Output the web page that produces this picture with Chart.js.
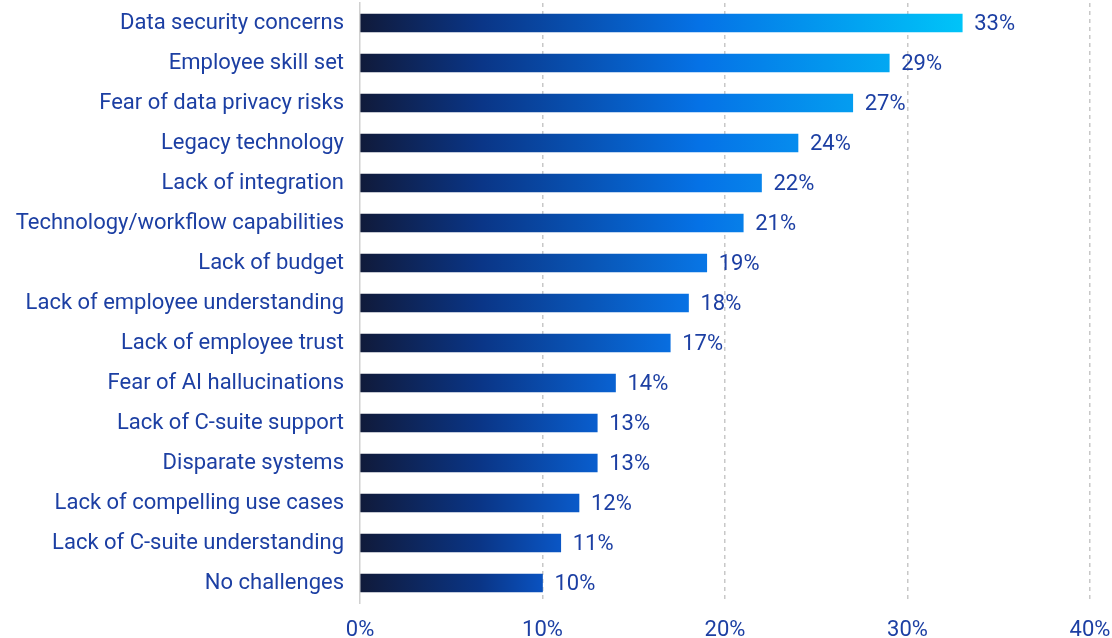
<!DOCTYPE html>
<html>
<head>
<meta charset="utf-8">
<script src="https://cdn.jsdelivr.net/npm/chart.js@4"></script>
<style>
  html, body { margin: 0; padding: 0; background: #fff; }
  #wrap { width: 1112px; height: 638px; }
</style>
</head>
<body>
<div id="wrap"><canvas id="challenges"></canvas></div>
<script>
const categories = [
    'Data security concerns',
    'Employee skill set',
    'Fear of data privacy risks',
    'Legacy technology',
    'Lack of integration',
    'Technology/workflow capabilities',
    'Lack of budget',
    'Lack of employee understanding',
    'Lack of employee trust',
    'Fear of AI hallucinations',
    'Lack of C-suite support',
    'Disparate systems',
    'Lack of compelling use cases',
    'Lack of C-suite understanding',
    'No challenges'
];
const shares = [33, 29, 27, 24, 22, 21, 19, 18, 17, 14, 13, 13, 12, 11, 10];
const tickValues = [0, 10, 20, 30, 40];

const textColor = '#1c3fa3';
const fontFamily = 'Roboto, "Noto Sans", sans-serif';

// colour reached at the end of a bar, by its value
const endStops = [
    [10, [10, 82, 192]],
    [18, [8, 114, 228]],
    [24, [6, 140, 238]],
    [29, [2, 168, 242]],
    [33, [0, 196, 248]]
];
// fixed ramp along the bar, in pixels from the zero line
const rampStops = [
    [0, '#101a3a'],
    [120, '#0a3586'],
    [340, '#0572e6']
];

function endColor(v) {
    if (v <= endStops[0][0]) return `rgb(${endStops[0][1].join(',')})`;
    for (let i = 1; i < endStops.length; i++) {
        if (v <= endStops[i][0]) {
            const [a, ca] = endStops[i - 1];
            const [b, cb] = endStops[i];
            const t = (v - a) / (b - a);
            const c = ca.map((x, k) => Math.round(x + (cb[k] - x) * t));
            return `rgb(${c.join(',')})`;
        }
    }
    return `rgb(${endStops[endStops.length - 1][1].join(',')})`;
}

function barFill(context) {
    const chart = context.chart;
    if (!chart.chartArea) return '#0a52c0';
    const x = chart.scales.x;
    const v = context.raw;
    const x0 = x.getPixelForValue(0);
    const x1 = x.getPixelForValue(v);
    const len = x1 - x0;
    const g = chart.ctx.createLinearGradient(x0, 0, x1, 0);
    rampStops.forEach(([px, col]) => {
        if (px < len * 0.9) g.addColorStop(px / len, col);
    });
    g.addColorStop(1, endColor(v));
    return g;
}

// value labels at the end of each bar
const valueLabels = {
    id: 'valueLabels',
    afterDatasetsDraw(chart) {
        const ctx = chart.ctx;
        const meta = chart.getDatasetMeta(0);
        ctx.save();
        ctx.font = `22px ${fontFamily}`;
        ctx.fillStyle = textColor;
        ctx.textAlign = 'left';
        ctx.textBaseline = 'middle';
        meta.data.forEach((bar, i) => {
            ctx.fillText(shares[i] + '%', bar.x + 12, bar.y + 1);
        });
        ctx.restore();
    }
};

new Chart(document.getElementById('challenges'), {
    type: 'bar',
    data: {
        labels: categories,
        datasets: [{
            data: shares,
            backgroundColor: barFill,
            barThickness: 18,
            borderWidth: 0
        }]
    },
    options: {
        indexAxis: 'y',
        responsive: true,
        maintainAspectRatio: false,
        animation: false,
        layout: { padding: { top: 3, right: 22, bottom: 0, left: 0 } },
        plugins: {
            legend: { display: false },
            tooltip: { enabled: false }
        },
        scales: {
            x: {
                min: 0,
                max: 40,
                afterBuildTicks(scale) {
                    scale.ticks = tickValues.map(v => ({ value: v }));
                },
                afterFit(scale) {
                    scale.height = 35;
                    scale.paddingLeft = 0;
                    scale.paddingRight = 0;
                },
                ticks: {
                    color: textColor,
                    font: { family: fontFamily, size: 22, lineHeight: 1.2 },
                    padding: 14,
                    maxRotation: 0,
                    callback: v => v + '%'
                },
                grid: {
                    drawTicks: false,
                    lineWidth: 1.5,
                    color: ctx => ctx.tick && ctx.tick.value === 0 ? 'rgba(0,0,0,0)' : '#c8c8c8'
                },
                border: { display: false, dash: [4, 4] }
            },
            y: {
                afterFit(scale) {
                    scale.width = 360;
                    scale.paddingTop = 0;
                    scale.paddingBottom = 0;
                },
                ticks: {
                    color: textColor,
                    font: { family: fontFamily, size: 22 },
                    padding: 16
                },
                grid: { display: false, drawTicks: false },
                border: { display: true, color: '#d0d0d0', width: 1.5 }
            }
        }
    },
    plugins: [valueLabels]
});
</script>
</body>
</html>
